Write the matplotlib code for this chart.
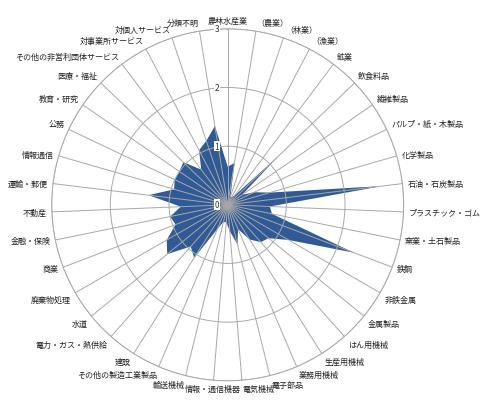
import numpy as np
import matplotlib
matplotlib.use("Agg")
import matplotlib.pyplot as plt

plt.rcParams['font.family'] = ['Noto Sans CJK JP', 'DejaVu Sans']

# categories, clockwise from top
cats = ["農林水産業", "（農業）", "（林業）", "（漁業）", "鉱業", "飲食料品", "繊維製品",
        "パルプ・紙・木製品", "化学製品", "石油・石炭製品", "プラスチック・ゴム", "窯業・土石製品",
        "鉄鋼", "非鉄金属", "金属製品", "はん用機械", "生産用機械", "業務用機械", "電子部品",
        "電気機械", "情報・通信機器", "輸送機械", "その他の製造工業製品", "建設",
        "電力・ガス・熱供給", "水道", "廃棄物処理", "商業", "金融・保険", "不動産", "運輸・郵便",
        "情報通信", "公務", "教育・研究", "医療・福祉", "その他の非営利団体サービス",
        "対事業所サービス", "対個人サービス", "分類不明"]

vals = [0.65, 0.72, 0.15, 0.15, 0.2, 1.2, 0.3,
        0.5, 0.75, 2.65, 0.72, 0.77,
        2.3, 1.2, 0.9, 0.85, 0.7, 0.45, 0.7,
        0.45, 0.3, 0.3, 0.45, 1.07,
        0.95, 1.33, 1.2, 0.95, 1.0, 0.8, 1.36,
        0.95, 1.0, 1.0, 1.05, 0.75,
        1.05, 1.15, 1.36]

rticks = [0, 1, 2, 3]

n = len(cats)
ang = np.arange(n) * 2 * np.pi / n

fig = plt.figure(figsize=(4.8, 4.06), dpi=100)
ax = fig.add_axes([0.1077, 0.0596, 0.7333, 0.867], projection='polar')
ax.set_theta_zero_location('N')
ax.set_theta_direction(-1)

ax.fill(np.append(ang, ang[0]), np.append(vals, vals[0]), color='#2f5a96', lw=0, zorder=1)

ax.set_ylim(0, 3)
ax.set_yticks(rticks)
ax.set_yticklabels([])
ax.set_xticks(ang)
ax.set_xticklabels([])
ax.set_axisbelow(False)
ax.grid(True, color='#a8a8a8', lw=0.7)
ax.spines['polar'].set_color('#a8a8a8')
ax.spines['polar'].set_linewidth(0.7)
ax.tick_params(length=0)

for r in rticks:
    ax.annotate(str(r), xy=(0, r), xytext=(-11, 0), textcoords='offset pixels',
                ha='center', va='center', fontsize=6, color='#333333',
                bbox=dict(fc='white', ec='none', pad=0.6), zorder=5)

for a, c in zip(ang, cats):
    s, co = np.sin(a), np.cos(a)
    if s > 0.05:
        ha = 'left'
    elif s < -0.1:
        ha = 'right'
    else:
        ha = 'center'
    if co > 0.35:
        va = 'bottom'
    elif co < -0.4:
        va = 'top'
    else:
        va = 'center'
    ax.annotate(c, xy=(a, 3), xytext=(5 * s, 4 * co), textcoords='offset pixels',
                ha=ha, va=va, fontsize=5.8, color='#222222', annotation_clip=False)

fig.savefig("out.png", dpi=100)
